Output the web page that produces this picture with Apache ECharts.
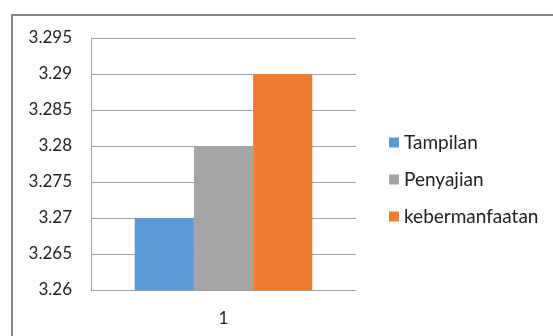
<!DOCTYPE html>
<html>
<head>
<meta charset="utf-8">
<script src="https://cdn.jsdelivr.net/npm/echarts@6/dist/echarts.min.js"></script>
<style>
  html, body { margin: 0; padding: 0; background: #fff; }
  #chart { width: 553px; height: 336px; }
</style>
</head>
<body>
<div id="chart"></div>
<script>
// data
var categories = ["1"];
var seriesNames = ["Tampilan", "Penyajian", "kebermanfaatan"];
var tampilan = [3.27];
var penyajian = [3.28];
var kebermanfaatan = [3.29];
var colors = ["#5B9BD5", "#A5A5A5", "#ED7D31"];

var font = "Lato, 'Open Sans', sans-serif";

var myChart = echarts.init(document.getElementById("chart"));
var option = {
  animation: false,
  grid: {
    left: 91,
    top: 38,
    width: 265,
    height: 252,
  },
  graphic: [
    {
      type: "rect",
      shape: { x: 12, y: 15, width: 700, height: 500 },
      style: { fill: null, stroke: "#878787", lineWidth: 2 },
      silent: true,
    },
  ],
  legend: {
    orient: "vertical",
    left: 384,
    top: 128,
    itemWidth: 10,
    itemHeight: 10,
    itemGap: 18,
    icon: "rect",
    textStyle: {
      fontFamily: font,
      fontSize: 19,
      color: "#222",
    },
    data: seriesNames,
  },
  xAxis: {
    type: "category",
    data: categories,
    axisTick: { show: false },
    axisLine: { lineStyle: { color: "#a0a0a0", width: 1 } },
    axisLabel: {
      margin: 20,
      fontFamily: font,
      fontSize: 17,
      color: "#222",
    },
  },
  yAxis: {
    type: "value",
    min: 3.26,
    max: 3.295,
    interval: 0.005,
    axisLine: { show: true, lineStyle: { color: "#a0a0a0" } },
    axisTick: { show: false },
    splitLine: { lineStyle: { color: "#a0a0a0" } },
    axisLabel: {
      margin: 19,
      fontFamily: font,
      fontSize: 17,
      color: "#222",
      formatter: function (v) {
        return String(parseFloat(v.toFixed(3)));
      },
    },
  },
  series: [
    {
      name: seriesNames[0],
      type: "bar",
      data: tampilan,
      barGap: "0%",
      barCategoryGap: "33%",
      itemStyle: { color: colors[0] },
    },
    {
      name: seriesNames[1],
      type: "bar",
      data: penyajian,
      itemStyle: { color: colors[1] },
    },
    {
      name: seriesNames[2],
      type: "bar",
      data: kebermanfaatan,
      itemStyle: { color: colors[2] },
    },
  ],
};
myChart.setOption(option);
</script>
</body>
</html>
